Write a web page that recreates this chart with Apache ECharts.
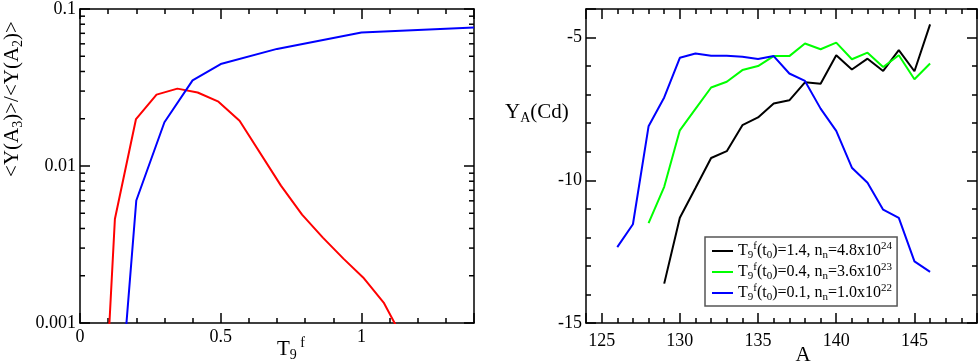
<!DOCTYPE html>
<html>
<head>
<meta charset="utf-8">
<script src="https://cdn.jsdelivr.net/npm/echarts@6/dist/echarts.min.js"></script>
<style>
  html, body { margin: 0; padding: 0; background: #fff; }
  #chart { width: 978px; height: 361px; }
</style>
</head>
<body>
<div id="chart"></div>
<script>
// left panel: <Y(A3)>/<Y(A2)> vs T9f
const redT9 = [0.1, 0.124, 0.199, 0.272, 0.346, 0.418, 0.492, 0.567, 0.714, 0.789, 0.863, 0.936, 1.006, 1.079, 1.15];
const redRatio = [0.0007, 0.0046, 0.0199, 0.0285, 0.0311, 0.0294, 0.0257, 0.0194, 0.0075, 0.0049, 0.0035, 0.00257, 0.00195, 0.00135, 0.00078];
const blueT9 = [0.15, 0.2, 0.3, 0.4, 0.5, 0.7, 1.0, 1.4];
const blueRatio = [0.00046, 0.00603, 0.019, 0.0351, 0.0446, 0.0557, 0.0708, 0.0762];
// minor ticks of the log axis
const logMinorTicks = [0.002, 0.003, 0.004, 0.005, 0.006, 0.007, 0.008, 0.009,
                       0.02, 0.03, 0.04, 0.05, 0.06, 0.07, 0.08, 0.09];

// right panel: log Y_A(Cd) vs A
const massBlack = [129, 130, 131, 132, 133, 134, 135, 136, 137, 138, 139, 140, 141, 142, 143, 144, 145, 146];
const yieldBlack = [-13.62, -11.31, -10.27, -9.22, -8.98, -8.07, -7.80, -7.31, -7.20, -6.57, -6.62, -5.62, -6.12, -5.74, -6.17, -5.44, -6.18, -4.54];
const massGreen = [128, 129, 130, 131, 132, 133, 134, 135, 136, 137, 138, 139, 140, 141, 142, 143, 144, 145, 146];
const yieldGreen = [-11.50, -10.23, -8.25, -7.50, -6.75, -6.55, -6.14, -6.00, -5.65, -5.65, -5.21, -5.41, -5.18, -5.76, -5.53, -6.03, -5.62, -6.46, -5.91];
const massBlue = [126, 127, 128, 129, 130, 131, 132, 133, 134, 135, 136, 137, 138, 139, 140, 141, 142, 143, 144, 145, 146];
const yieldBlue = [-12.34, -11.54, -8.11, -7.10, -5.71, -5.56, -5.64, -5.64, -5.67, -5.75, -5.65, -6.26, -6.52, -7.49, -8.27, -9.56, -10.09, -11.03, -11.32, -12.84, -13.21];

// legend texts
const legendT9 = ['1.4', '0.4', '0.1'];
const legendNn = ['4.8', '3.6', '1.0'];
const legendExp = ['24', '23', '22'];

const FONT = 'Liberation Serif';
const zip = (xs, ys) => xs.map((x, i) => [x, ys[i]]);

const chart = echarts.init(document.getElementById('chart'));

// 公共坐标轴样式
function frameAxis(extra) {
    return Object.assign({
        axisLine: { show: true, onZero: false, lineStyle: { color: '#000', width: 1.5 } },
        axisTick: { show: true, inside: true, length: 10, lineStyle: { color: '#000', width: 1.5 } },
        minorTick: { show: true, length: 5, splitNumber: 5, lineStyle: { color: '#000', width: 1.5 } },
        splitLine: { show: false },
        axisLabel: { show: false },
        silent: true
    }, extra);
}
const labelStyle = { show: true, color: '#000', fontFamily: FONT, fontSize: 18, showMinLabel: true, showMaxLabel: false };

const richBase = {
    n: { fontFamily: FONT, fontSize: 16, lineHeight: 20, verticalAlign: 'middle', color: '#000' },
    sub: { fontFamily: FONT, fontSize: 11, lineHeight: 11, verticalAlign: 'bottom', color: '#000' },
    sup: { fontFamily: FONT, fontSize: 11, lineHeight: 11, verticalAlign: 'top', color: '#000' }
};
const richBig = {
    n: { fontFamily: FONT, fontSize: 21, lineHeight: 26, verticalAlign: 'middle', color: '#000' },
    sub: { fontFamily: FONT, fontSize: 14, lineHeight: 14, verticalAlign: 'bottom', color: '#000' },
    sup: { fontFamily: FONT, fontSize: 14, lineHeight: 14, verticalAlign: 'top', color: '#000' }
};

const seriesNames = ['k', 'g', 'b'];
function legendText(i) {
    return '{n|T}{sub|9}{sup|f}{n|(t}{sub|0}{n|)=' + legendT9[i] + ', n}{sub|n}{n|=' +
        legendNn[i] + 'x10}{sup|' + legendExp[i] + '}';
}

const option = {
    animation: false,
    textStyle: { fontFamily: FONT },
    grid: [
        { left: 80, top: 7, width: 394, height: 316 },
        { left: 586, top: 9, width: 391, height: 314 }
    ],
    xAxis: [
        frameAxis({ gridIndex: 0, type: 'value', position: 'bottom', min: 0, max: 1.4, interval: 0.5,
            axisLabel: Object.assign({}, labelStyle, { margin: 5 }) }),
        frameAxis({ gridIndex: 0, type: 'value', position: 'top', min: 0, max: 1.4, interval: 0.5 }),
        frameAxis({ gridIndex: 1, type: 'value', position: 'bottom', min: 124, max: 149, splitNumber: 5,
            axisLabel: Object.assign({}, labelStyle, { margin: 9, showMinLabel: false }) }),
        frameAxis({ gridIndex: 1, type: 'value', position: 'top', min: 124, max: 149, splitNumber: 5 })
    ],
    yAxis: [
        frameAxis({ gridIndex: 0, type: 'log', logBase: 10, position: 'left', min: 0.001, max: 0.1,
            minorTick: { show: false },
            axisLabel: Object.assign({}, labelStyle, { margin: 4, showMaxLabel: true,
                formatter: v => String(Number(v.toPrecision(2))) }) }),
        frameAxis({ gridIndex: 0, type: 'log', logBase: 10, position: 'right', min: 0.001, max: 0.1,
            minorTick: { show: false } }),
        frameAxis({ gridIndex: 1, type: 'value', position: 'left', min: -15, max: -4, interval: 5,
            axisLabel: Object.assign({}, labelStyle, { margin: 4 }) }),
        frameAxis({ gridIndex: 1, type: 'value', position: 'right', min: -15, max: -4, interval: 5 })
    ],
    legend: {
        data: seriesNames,
        orient: 'vertical',
        left: 705,
        top: 237,
        padding: [4, 5, 3, 7],
        itemGap: 1,
        itemWidth: 21,
        itemHeight: 2,
        icon: 'rect',
        borderColor: '#555',
        borderWidth: 1.5,
        backgroundColor: '#fff',
        selectedMode: false,
        textStyle: { rich: richBase },
        formatter: name => legendText(seriesNames.indexOf(name))
    },
    graphic: [
        {
            type: 'text', x: 12, y: 99, rotation: Math.PI / 2, silent: true,
            style: { text: '{n|<Y(A}{sub|3}{n|)>/<Y(A}{sub|2}{n|)>}', rich: richBig, align: 'center', verticalAlign: 'middle' }
        },
        {
            type: 'text', x: 277, y: 349, silent: true,
            style: { text: '{n|T}{sub|9}{sup| f}', rich: richBig, align: 'left', verticalAlign: 'middle' }
        },
        {
            type: 'text', x: 505, y: 112, silent: true,
            style: { text: '{n|Y}{sub|A}{n|(Cd)}', rich: richBig, align: 'left', verticalAlign: 'middle' }
        },
        {
            type: 'text', x: 803, y: 355, silent: true,
            style: { text: '{n|A}', rich: richBig, align: 'center', verticalAlign: 'middle' }
        }
    ],
    series: [
        {
            type: 'line', xAxisIndex: 0, yAxisIndex: 0, data: zip(redT9, redRatio),
            showSymbol: false, silent: true, lineStyle: { color: '#ff0000', width: 2 }, itemStyle: { color: '#ff0000' }
        },
        {
            type: 'line', xAxisIndex: 0, yAxisIndex: 0, data: zip(blueT9, blueRatio),
            showSymbol: false, silent: true, lineStyle: { color: '#0000ff', width: 2 }, itemStyle: { color: '#0000ff' }
        },
        {
            // 对数轴的次刻度（左右两侧）
            type: 'custom', xAxisIndex: 0, yAxisIndex: 0, silent: true, clip: false,
            data: logMinorTicks.map(v => [0, v]),
            renderItem: (params, api) => {
                const v = api.value(1);
                const pl = api.coord([0, v]);
                const pr = api.coord([1.4, v]);
                const st = { stroke: '#000', lineWidth: 1.5 };
                return {
                    type: 'group',
                    children: [
                        { type: 'line', shape: { x1: pl[0], y1: pl[1], x2: pl[0] + 5, y2: pl[1] }, style: st },
                        { type: 'line', shape: { x1: pr[0] - 5, y1: pr[1], x2: pr[0], y2: pr[1] }, style: st }
                    ]
                };
            }
        },
        {
            name: 'k', type: 'line', xAxisIndex: 2, yAxisIndex: 2, data: zip(massBlack, yieldBlack),
            showSymbol: false, silent: true, lineStyle: { color: '#000000', width: 2 }, itemStyle: { color: '#000000' }
        },
        {
            name: 'g', type: 'line', xAxisIndex: 2, yAxisIndex: 2, data: zip(massGreen, yieldGreen),
            showSymbol: false, silent: true, lineStyle: { color: '#00ff00', width: 2 }, itemStyle: { color: '#00ff00' }
        },
        {
            name: 'b', type: 'line', xAxisIndex: 2, yAxisIndex: 2, data: zip(massBlue, yieldBlue),
            showSymbol: false, silent: true, lineStyle: { color: '#0000ff', width: 2 }, itemStyle: { color: '#0000ff' }
        }
    ]
};

chart.setOption(option);
window.addEventListener('resize', () => chart.resize());
</script>
</body>
</html>
